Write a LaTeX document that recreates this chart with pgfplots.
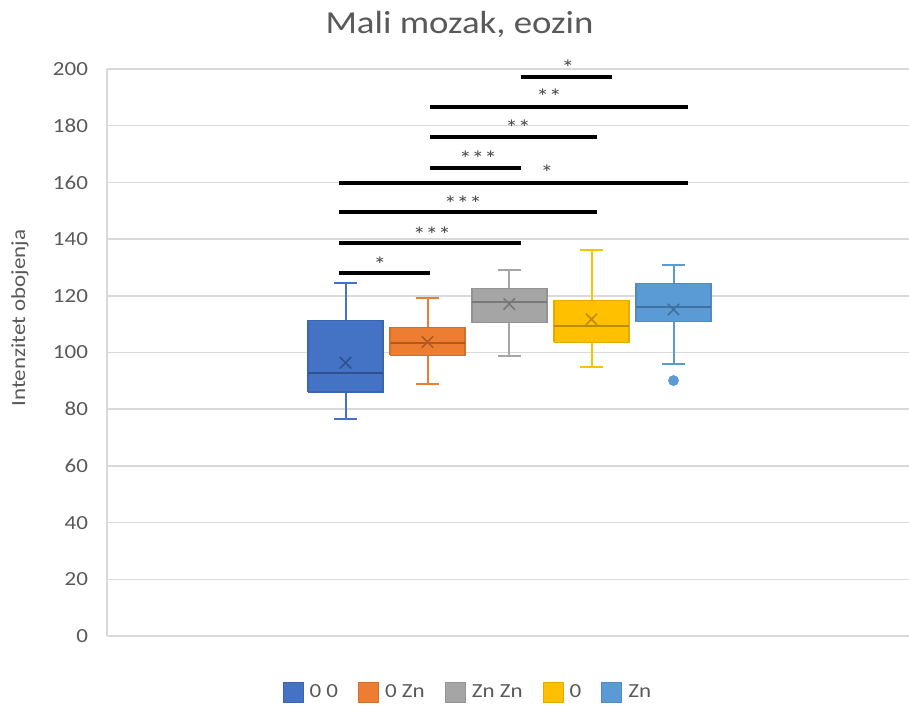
\documentclass[border=0pt]{standalone}
\usepackage{fontspec}
\setmainfont{Carlito}[FakeStretch=1.15]
\usepackage{pgfplots}
\pgfplotsset{compat=1.18}
\definecolor{txt}{HTML}{595959}
\definecolor{grid}{HTML}{D9D9D9}
\definecolor{cA}{HTML}{4472C4}\definecolor{cAd}{HTML}{2F528F}
\definecolor{cB}{HTML}{ED7D31}\definecolor{cBd}{HTML}{AE5A21}
\definecolor{cC}{HTML}{A5A5A5}\definecolor{cCd}{HTML}{787878}
\definecolor{cD}{HTML}{FFC000}\definecolor{cDd}{HTML}{BC8C00}
\definecolor{cE}{HTML}{5B9BD5}\definecolor{cEd}{HTML}{41719C}
\pgfplotsset{
  whisk/.style={forget plot, line width=1pt, #1},
  boxst/.style={forget plot, line width=0.75pt},
  med/.style={forget plot, line width=1pt, #1},
  meanst/.style={forget plot, only marks, mark=x, mark size=4pt, line width=0.8pt, draw=#1},
  sig/.style={forget plot, black, line width=2pt},
}
\begin{document}
\begin{tikzpicture}
\begin{axis}[
  at={(53.5pt,35.5pt)}, anchor=south west,
  width=401pt, height=283.5pt, scale only axis,
  xmin=107, xmax=909, ymin=0, ymax=200,
  ytick={0,20,...,200}, xtick=\empty,
  ymajorgrids, grid style={draw=grid, line width=0.75pt},
  axis x line*=bottom, axis y line*=left,
  axis line style={draw=grid, line width=0.75pt, -},
  major tick length=0pt,
  /pgf/number format/assume math mode=true,
  yticklabel style={font=\fontsize{10}{12}\selectfont, text=txt, xshift=-6pt},
  clip=false,
  legend style={at={(0.4525,-0.1005)}, anchor=center, draw=none, fill=none,
    legend columns=5, font=\fontsize{10}{12}\selectfont, text=txt,
    /tikz/every even column/.append style={column sep=7pt},
    nodes={inner sep=3pt}},
]
% ---- 0 0 (pos 345.5)
\addplot[whisk=cA] coordinates {(345.5,76.5) (345.5,124.6)};
\addplot[whisk=cA] coordinates {(334,76.5) (357,76.5)};
\addplot[whisk=cA] coordinates {(334,124.6) (357,124.6)};
\addplot[boxst, fill=cA, draw=cA!60!cAd] coordinates {(308,86.0) (383,86.0) (383,111.2) (308,111.2) (308,86.0)};
\addplot[med=cAd] coordinates {(308,92.7) (383,92.7)};
\addplot[meanst=cAd] coordinates {(345.5,96.4)};
% ---- 0 Zn (pos 427.5)
\addplot[whisk=cB] coordinates {(427.5,88.8) (427.5,119.1)};
\addplot[whisk=cB] coordinates {(416,88.8) (439,88.8)};
\addplot[whisk=cB] coordinates {(416,119.1) (439,119.1)};
\addplot[boxst, fill=cB, draw=cB!60!cBd] coordinates {(390,99.0) (465,99.0) (465,108.8) (390,108.8) (390,99.0)};
\addplot[med=cBd] coordinates {(390,103.2) (465,103.2)};
\addplot[meanst=cBd] coordinates {(427.5,103.7)};
% ---- Zn Zn (pos 509.3)
\addplot[whisk=cC] coordinates {(509.3,98.8) (509.3,129.1)};
\addplot[whisk=cC] coordinates {(497.8,98.8) (520.8,98.8)};
\addplot[whisk=cC] coordinates {(497.8,129.1) (520.8,129.1)};
\addplot[boxst, fill=cC, draw=cC!60!cCd] coordinates {(471.8,110.5) (546.8,110.5) (546.8,122.6) (471.8,122.6) (471.8,110.5)};
\addplot[med=cCd] coordinates {(471.8,117.8) (546.8,117.8)};
\addplot[meanst=cCd] coordinates {(509.3,117.1)};
% ---- 0 (pos 591.5)
\addplot[whisk=cD] coordinates {(591.5,94.8) (591.5,136.2)};
\addplot[whisk=cD] coordinates {(580,94.8) (603,94.8)};
\addplot[whisk=cD] coordinates {(580,136.2) (603,136.2)};
\addplot[boxst, fill=cD, draw=cD!60!cDd] coordinates {(554,103.6) (629,103.6) (629,118.3) (554,118.3) (554,103.6)};
\addplot[med=cDd] coordinates {(554,109.5) (629,109.5)};
\addplot[meanst=cDd] coordinates {(591.5,111.7)};
% ---- Zn (pos 673.5)
\addplot[whisk=cE] coordinates {(673.5,95.9) (673.5,131.0)};
\addplot[whisk=cE] coordinates {(662,95.9) (685,95.9)};
\addplot[whisk=cE] coordinates {(662,131.0) (685,131.0)};
\addplot[boxst, fill=cE, draw=cE!60!cEd] coordinates {(636,110.9) (711,110.9) (711,124.4) (636,124.4) (636,110.9)};
\addplot[med=cEd] coordinates {(636,115.9) (711,115.9)};
\addplot[meanst=cEd] coordinates {(673.5,115.2)};
\addplot[forget plot, only marks, mark=*, mark size=2.5pt, draw=cE, fill=cE] coordinates {(673.5,90.1)};
% significance bars
\addplot[sig] coordinates {(521,197.3) (612,197.3)};
\addplot[sig] coordinates {(430,186.5) (688,186.5)};
\addplot[sig] coordinates {(430,176.1) (597,176.1)};
\addplot[sig] coordinates {(430,165.2) (521,165.2)};
\addplot[sig] coordinates {(339,159.8) (688,159.8)};
\addplot[sig] coordinates {(339,149.4) (597,149.4)};
\addplot[sig] coordinates {(339,138.5) (521,138.5)};
\addplot[sig] coordinates {(339,128.1) (430,128.1)};
\begin{scope}[every node/.style={anchor=base, font=\fontsize{11}{12}\selectfont, text=black!70, inner sep=0pt}]
\node at (axis cs:568,197.7) {*};
\node at (axis cs:549,187.4) {**};
\node at (axis cs:518,176.5) {**};
\node at (axis cs:478,165.6) {***};
\node at (axis cs:547,160.6) {*};
\node at (axis cs:463,149.7) {***};
\node at (axis cs:432,138.9) {***};
\node at (axis cs:380,128.3) {*};
\end{scope}
% legend
\addlegendimage{legend image code/.code={\draw[fill=cA, draw=cA!60!cAd, line width=0.5pt] (0pt,-5pt) rectangle (10pt,5pt);}}
\addlegendentry{0 0}
\addlegendimage{legend image code/.code={\draw[fill=cB, draw=cB!60!cBd, line width=0.5pt] (0pt,-5pt) rectangle (10pt,5pt);}}
\addlegendentry{0 Zn}
\addlegendimage{legend image code/.code={\draw[fill=cC, draw=cC!60!cCd, line width=0.5pt] (0pt,-5pt) rectangle (10pt,5pt);}}
\addlegendentry{Zn Zn}
\addlegendimage{legend image code/.code={\draw[fill=cD, draw=cD!60!cDd, line width=0.5pt] (0pt,-5pt) rectangle (10pt,5pt);}}
\addlegendentry{0}
\addlegendimage{legend image code/.code={\draw[fill=cE, draw=cE!60!cEd, line width=0.5pt] (0pt,-5pt) rectangle (10pt,5pt);}}
\addlegendentry{Zn}
\end{axis}
\node[anchor=base, text=txt, font=\fontsize{16}{19}\selectfont, inner sep=0pt] at (229.75pt,336.5pt) {Mali mozak, eozin};
\node[rotate=90, text=txt, font=\fontsize{10}{12}\selectfont, inner sep=0pt] at (10pt,194.5pt) {Intenzitet obojenja};
\pgfresetboundingbox
\useasboundingbox (0,0) rectangle (454.5pt,353.5pt);
\end{tikzpicture}
\end{document}
